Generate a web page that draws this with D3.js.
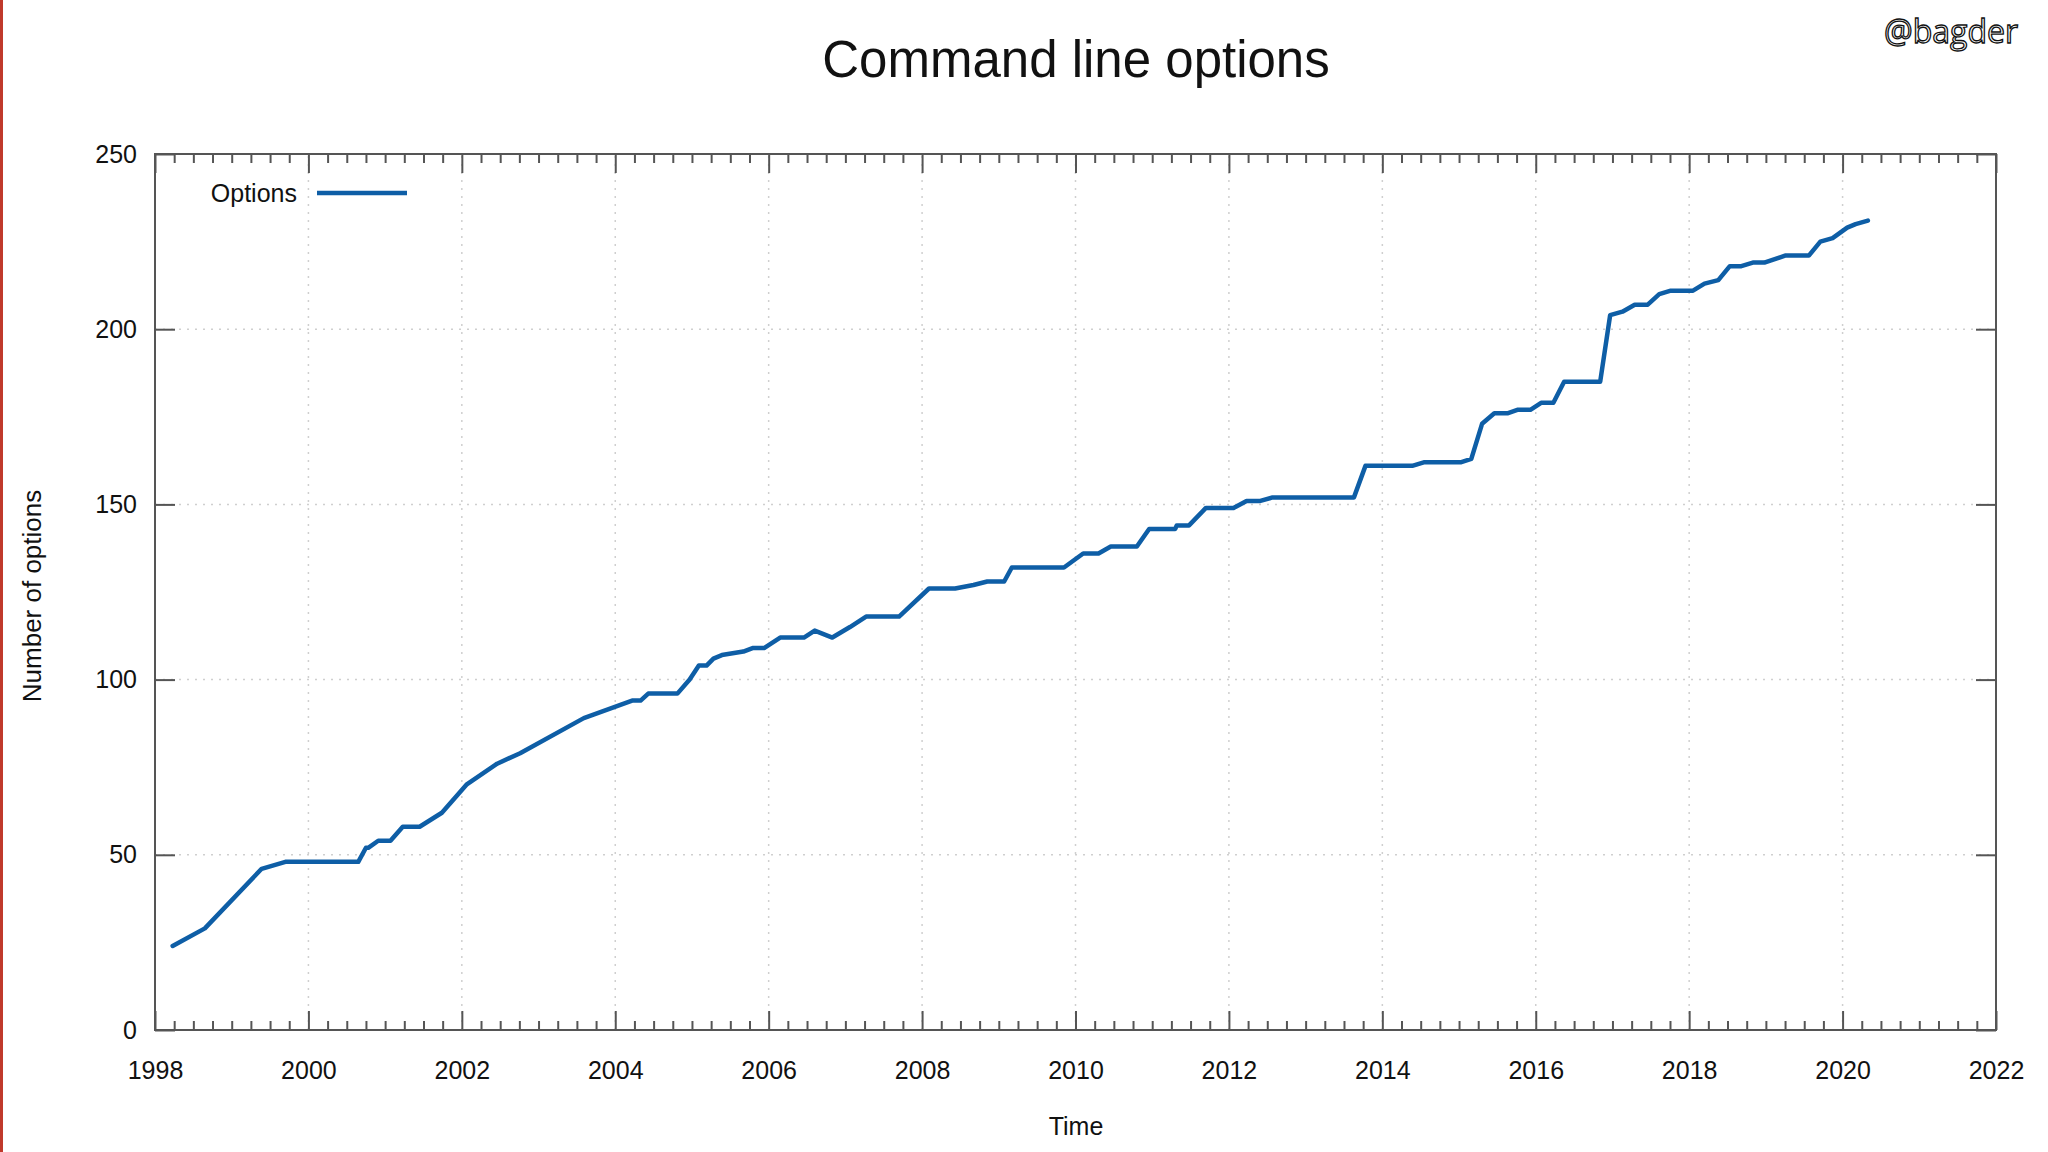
<!DOCTYPE html>
<html>
<head>
	<meta charset="utf-8">
	<script src="https://d3js.org/d3.v7.min.js"></script>
	<style>
		body { margin: 0; background: #fff; }
		text { font-family: "Liberation Sans", Arial, sans-serif; fill: #111; }
		.grid line { stroke: #cfcfcf; stroke-width: 1.5; stroke-dasharray: 2,6; }
		.axis line { stroke: #555; stroke-width: 2; }
		.axis path { display: none; }
		.axis text { font-size: 25px; fill: #111; }
	</style>
</head>
<body>
<script type="text/javascript">
	"use strict";

	// time of each sample, as a decimal year
	var dates = [
		1998.23, 1998.65, 1999.39, 1999.70, 2000.65, 2000.75, 2000.78, 2000.91,
		2001.07, 2001.23, 2001.45, 2001.74, 2002.06, 2002.46, 2002.76, 2003.59,
		2004.22, 2004.33, 2004.43, 2004.81, 2004.97, 2005.09, 2005.19, 2005.28,
		2005.39, 2005.67, 2005.79, 2005.94, 2006.15, 2006.46, 2006.60, 2006.83,
		2007.06, 2007.27, 2007.70, 2008.09, 2008.43, 2008.67, 2008.85, 2009.07,
		2009.17, 2009.85, 2010.10, 2010.30, 2010.46, 2010.80, 2010.96, 2011.30,
		2011.32, 2011.48, 2011.70, 2012.06, 2012.23, 2012.41, 2012.57, 2013.63,
		2013.78, 2014.39, 2014.54, 2015.02, 2015.16, 2015.30, 2015.46, 2015.63,
		2015.76, 2015.93, 2016.07, 2016.23, 2016.37, 2016.84, 2016.97, 2017.13,
		2017.29, 2017.46, 2017.61, 2017.76, 2018.05, 2018.20, 2018.38, 2018.53,
		2018.68, 2018.83, 2018.98, 2019.25, 2019.56, 2019.71, 2019.87, 2020.06,
		2020.17, 2020.33
	];

	// number of command line options at that time
	var options = [
		24, 29, 46, 48, 48, 52, 52, 54,
		54, 58, 58, 62, 70, 76, 79, 89,
		94, 94, 96, 96, 100, 104, 104, 106,
		107, 108, 109, 109, 112, 112, 114, 112,
		115, 118, 118, 126, 126, 127, 128, 128,
		132, 132, 136, 136, 138, 138, 143, 143,
		144, 144, 149, 149, 151, 151, 152, 152,
		161, 161, 162, 162, 163, 173, 176, 176,
		177, 177, 179, 179, 185, 185, 204, 205,
		207, 207, 210, 211, 211, 213, 214, 218,
		218, 219, 219, 221, 221, 225, 226, 229,
		230, 231
	];

	var yearTicks = [1998, 2000, 2002, 2004, 2006, 2008, 2010, 2012, 2014, 2016, 2018, 2020, 2022];
	var valueTicks = [0, 50, 100, 150, 200, 250];

	var data = dates.map(function (d, i) { return { t: d, v: options[i] }; });

	var width = 2048,
		height = 1152,
		plotLeft = 155, plotRight = 1996, plotTop = 154, plotBottom = 1030;

	var svg = d3.select("body")
		.append("svg")
		.attr("width", width)
		.attr("height", height);

	svg.append("rect")
		.attr("width", width)
		.attr("height", height)
		.attr("fill", "#fff");

	// red slide edge on the left
	svg.append("rect")
		.attr("x", 0).attr("y", 0)
		.attr("width", 3).attr("height", height)
		.attr("fill", "#c0392b");

	var x = d3.scaleLinear().domain([1998, 2022]).range([plotLeft, plotRight]);
	var y = d3.scaleLinear().domain([0, 250]).range([plotBottom, plotTop]);

	// quarter year minor ticks
	var minorTicks = d3.range(1998, 2022.01, 0.25).filter(function (d) {
		return yearTicks.indexOf(d) < 0;
	});

	/*
	Grid
	*/
	var grid = svg.append("g").attr("class", "grid");

	grid.selectAll("line.gx")
		.data(yearTicks.slice(1, -1))
		.enter()
		.append("line")
			.attr("class", "gx")
			.attr("x1", function (d) { return x(d); })
			.attr("x2", function (d) { return x(d); })
			.attr("y1", plotBottom)
			.attr("y2", plotTop);

	grid.selectAll("line.gy")
		.data(valueTicks.slice(1, -1))
		.enter()
		.append("line")
			.attr("class", "gy")
			.attr("x1", plotLeft)
			.attr("x2", plotRight)
			.attr("y1", function (d) { return y(d); })
			.attr("y2", function (d) { return y(d); });

	/*
	Axes, ticks pointing inwards on all four sides
	*/
	svg.append("g")
		.attr("class", "axis")
		.attr("transform", "translate(0," + plotBottom + ")")
		.call(d3.axisBottom(x).tickValues(yearTicks).tickSize(-19).tickPadding(31)
			.tickFormat(d3.format("d")));

	svg.append("g")
		.attr("class", "axis")
		.attr("transform", "translate(0," + plotBottom + ")")
		.call(d3.axisBottom(x).tickValues(minorTicks).tickSize(-9).tickFormat(""));

	svg.append("g")
		.attr("class", "axis")
		.attr("transform", "translate(0," + plotTop + ")")
		.call(d3.axisTop(x).tickValues(yearTicks).tickSize(-19).tickFormat(""));

	svg.append("g")
		.attr("class", "axis")
		.attr("transform", "translate(0," + plotTop + ")")
		.call(d3.axisTop(x).tickValues(minorTicks).tickSize(-9).tickFormat(""));

	svg.append("g")
		.attr("class", "axis")
		.attr("transform", "translate(" + plotLeft + ",0)")
		.call(d3.axisLeft(y).tickValues(valueTicks).tickSize(-20).tickPadding(18));

	svg.append("g")
		.attr("class", "axis")
		.attr("transform", "translate(" + plotRight + ",0)")
		.call(d3.axisRight(y).tickValues(valueTicks).tickSize(-20).tickFormat(""));

	// plot border
	svg.append("rect")
		.attr("x", plotLeft)
		.attr("y", plotTop)
		.attr("width", plotRight - plotLeft)
		.attr("height", plotBottom - plotTop)
		.attr("fill", "none")
		.attr("stroke", "#555")
		.attr("stroke-width", 2);

	/*
	The line
	*/
	var line = d3.line()
		.x(function (d) { return x(d.t); })
		.y(function (d) { return y(d.v); });

	svg.append("path")
		.datum(data)
		.attr("d", line)
		.attr("fill", "none")
		.attr("stroke", "#0e5ea6")
		.attr("stroke-width", 4.5)
		.attr("stroke-linejoin", "round")
		.attr("stroke-linecap", "round");

	// legend
	svg.append("text")
		.attr("x", 297)
		.attr("y", 202)
		.attr("text-anchor", "end")
		.style("font-size", "25px")
		.text("Options");

	svg.append("line")
		.attr("x1", 317).attr("x2", 407)
		.attr("y1", 193).attr("y2", 193)
		.attr("stroke", "#0e5ea6")
		.attr("stroke-width", 4.5);

	/*
	Titles
	*/
	svg.append("text")
		.attr("x", 1076)
		.attr("y", 77)
		.attr("text-anchor", "middle")
		.style("font-size", "51px")
		.text("Command line options");

	svg.append("text")
		.attr("x", 1076)
		.attr("y", 1135)
		.attr("text-anchor", "middle")
		.style("font-size", "25px")
		.text("Time");

	svg.append("text")
		.attr("transform", "translate(41,596) rotate(-90)")
		.attr("text-anchor", "middle")
		.style("font-size", "26px")
		.text("Number of options");

	// outlined watermark
	svg.append("text")
		.attr("x", 2018)
		.attr("y", 43)
		.attr("text-anchor", "end")
		.style("font-family", "'Open Sans', sans-serif")
		.style("font-size", "32px")
		.style("fill", "#fff")
		.style("stroke", "#111")
		.style("stroke-width", 1.3)
		.text("@bagder");
</script>
</body>
</html>
